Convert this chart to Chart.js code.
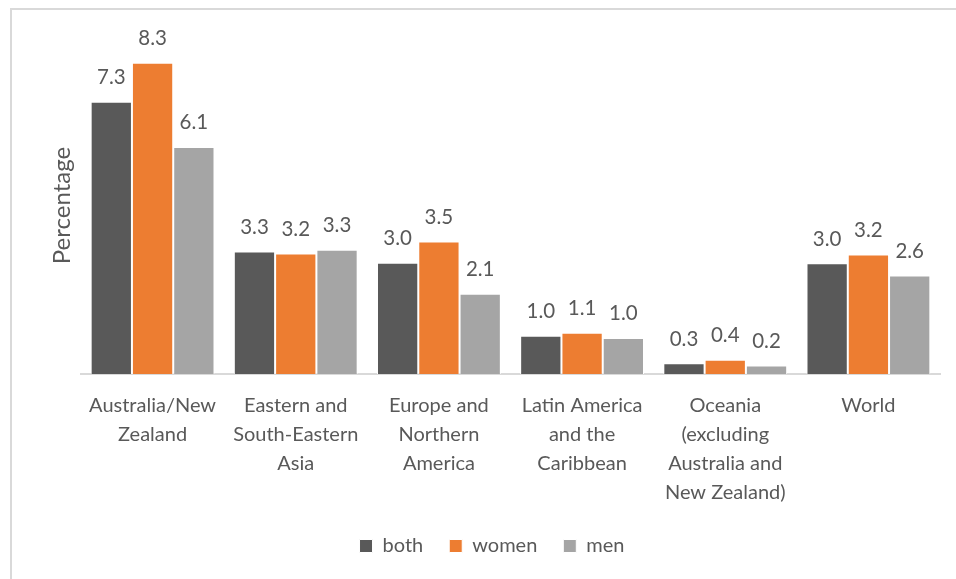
<!DOCTYPE html>
<html>
<head>
<meta charset="utf-8">
<script src="https://cdn.jsdelivr.net/npm/chart.js@4"></script>
<style>
  html, body { margin: 0; padding: 0; background: #fff; }
  #wrap { position: relative; width: 956px; height: 579px; overflow: hidden; }
  #frame { position: absolute; left: 10px; top: 8px; width: 960px; height: 590px;
           border-left: 2px solid #d9d9d9; border-top: 2px solid #d9d9d9; }
  canvas { position: absolute; left: 0; top: 0; }
</style>
</head>
<body>
<div id="wrap">
  <div id="frame"></div>
  <canvas id="myChart" width="956" height="579"></canvas>
</div>
<script>
// regions along the x axis
var regions = [
  ["Australia/New", "Zealand"],
  ["Eastern and", "South-Eastern", "Asia"],
  ["Europe and", "Northern", "America"],
  ["Latin America", "and the", "Caribbean"],
  ["Oceania", "(excluding", "Australia and", "New Zealand)"],
  ["World"]
];
// percentages
var both  = [7.27, 3.27, 2.97, 1.02, 0.29, 2.96];
var women = [8.31, 3.22, 3.54, 1.10, 0.38, 3.19];
var men   = [6.06, 3.32, 2.14, 0.96, 0.23, 2.63];

var textColor = "#595959";
var fontFam = "Lato, 'Open Sans', sans-serif";

// draws the value above each bar
var valueLabels = {
  id: "valueLabels",
  afterDatasetsDraw: function(chart) {
    var ctx = chart.ctx;
    ctx.save();
    ctx.fillStyle = textColor;
    ctx.font = "20.5px " + fontFam;
    ctx.textAlign = "center";
    ctx.textBaseline = "bottom";
    chart.data.datasets.forEach(function(ds, i) {
      chart.getDatasetMeta(i).data.forEach(function(bar, j) {
        ctx.fillText(ds.data[j].toFixed(1), bar.x, bar.y - 14);
      });
    });
    ctx.restore();
  }
};

new Chart(document.getElementById("myChart"), {
  type: "bar",
  data: {
    labels: regions,
    datasets: [
      { label: "both",  data: both,  backgroundColor: "#595959", borderColor: "#ffffff", borderWidth: 1 },
      { label: "women", data: women, backgroundColor: "#ED7D31", borderColor: "#ffffff", borderWidth: 1 },
      { label: "men",   data: men,   backgroundColor: "#A5A5A5", borderColor: "#ffffff", borderWidth: 1 }
    ]
  },
  options: {
    responsive: false,
    animation: false,
    devicePixelRatio: 1,
    layout: { padding: { left: 44, right: 16, top: 37, bottom: 13 } },
    datasets: { bar: { categoryPercentage: 0.865, barPercentage: 1.0 } },
    scales: {
      x: {
        grid: { display: false },
        border: { display: true, color: "#d9d9d9", width: 2 },
        ticks: {
          color: textColor, padding: 9, maxRotation: 0, autoSkip: false,
          font: { family: fontFam, size: 20, lineHeight: 1.45 }
        },
        afterFit: function(scale) { scale.height = 136; }
      },
      y: {
        min: 0, max: 9,
        grid: { display: false },
        border: { display: false },
        ticks: { display: false },
        title: {
          display: true, text: "Percentage", color: textColor,
          font: { family: fontFam, size: 24 }, padding: { top: 4, bottom: 4 }
        },
        afterFit: function(scale) { scale.width = 37; }
      }
    },
    plugins: {
      legend: {
        position: "bottom",
        labels: {
          color: textColor, boxWidth: 13, boxHeight: 13, padding: 26,
          font: { family: fontFam, size: 20 }
        }
      },
      tooltip: { enabled: false }
    }
  },
  plugins: [valueLabels]
});
</script>
</body>
</html>
